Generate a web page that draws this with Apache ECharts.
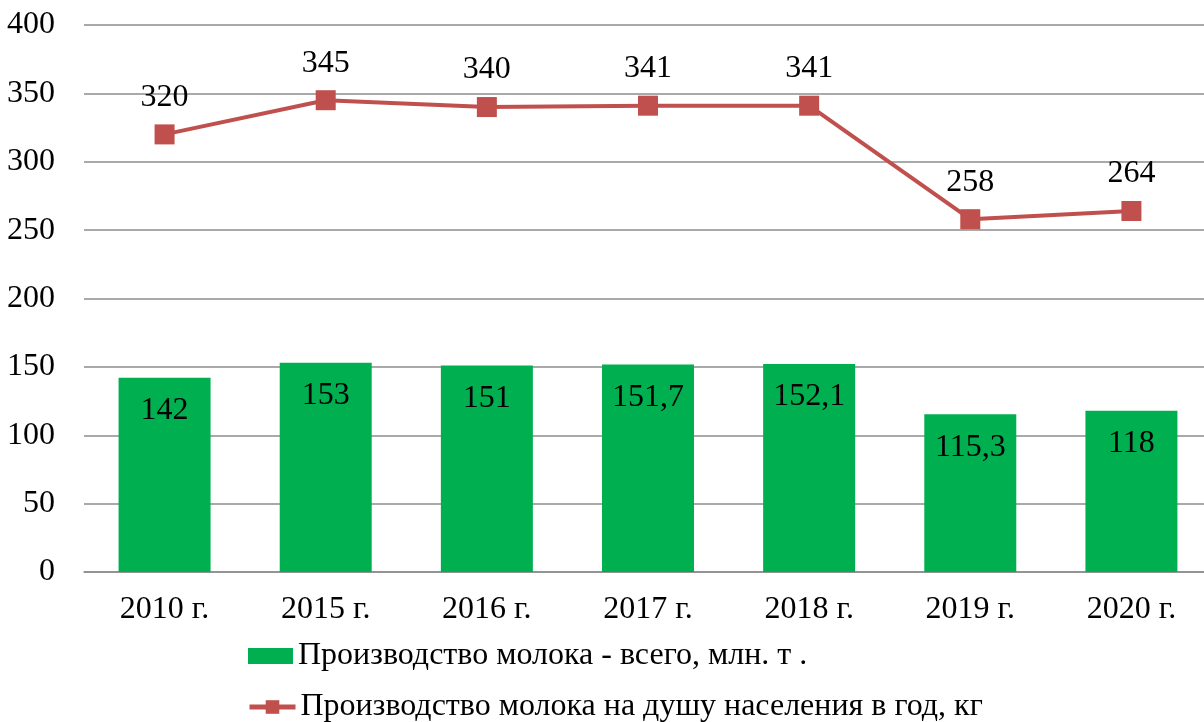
<!DOCTYPE html>
<html><head><meta charset="utf-8">
<script src="https://cdn.jsdelivr.net/npm/echarts@6/dist/echarts.min.js"></script>
<style>html,body{margin:0;padding:0;background:#fff;overflow:hidden}#c{width:1212px;height:722px}</style>
</head><body><div id="c"></div>
<script>
const categories = ['2010 г.', '2015 г.', '2016 г.', '2017 г.', '2018 г.', '2019 г.', '2020 г.'];
const barValues = [142, 153, 151, 151.7, 152.1, 115.3, 118];
const lineValues = [320, 345, 340, 341, 341, 258, 264];
const barName = 'Производство молока - всего, млн. т .';
const lineName = 'Производство молока на душу населения в год, кг';

const font = '"Liberation Serif", "Times New Roman", serif';
const fs = 32;
const chart = echarts.init(document.getElementById('c'));
chart.setOption({
  animation: false,
  backgroundColor: '#fff',
  textStyle: { fontFamily: font },
  grid: { left: 84, top: 25, right: 0, height: 547, containLabel: false },
  legend: [
    { data: [{ name: barName, icon: 'rect' }], orient: 'vertical', left: 248, top: 640, itemWidth: 45, itemHeight: 16, padding: 0,
      textStyle: { fontFamily: font, fontSize: fs, color: '#000' } },
    { data: [{ name: lineName, lineStyle: { width: 5 } }], orient: 'vertical', left: 247, top: 691, itemWidth: 46, itemHeight: 17, padding: 0,
      lineStyle: { width: 5 },
      textStyle: { fontFamily: font, fontSize: fs, color: '#000' } }
  ],
  xAxis: {
    type: 'category', data: categories,
    axisLine: { lineStyle: { color: '#8c8c8c', width: 1.5 } },
    axisTick: { show: false },
    axisLabel: { fontFamily: font, fontSize: fs, color: '#000', margin: 22 }
  },
  yAxis: {
    type: 'value', min: 0, max: 400, interval: 50,
    axisLine: { show: false }, axisTick: { show: false },
    splitLine: { lineStyle: { color: '#8c8c8c', width: 1.5 } },
    axisLabel: { fontFamily: font, fontSize: fs, color: '#000', margin: 29 }
  },
  series: [
    { name: barName, type: 'bar', data: barValues, barWidth: 92,
      itemStyle: { color: '#00B050' },
      label: { show: true, position: 'insideTop', distance: 17, fontFamily: font, fontSize: fs, color: '#000',
        formatter: p => String(p.value).replace('.', ',') } },
    { name: lineName, type: 'line', data: lineValues, symbol: 'rect', symbolSize: 20,
      lineStyle: { color: '#C0504D', width: 4 }, itemStyle: { color: '#C0504D' },
      label: { show: true, position: 'top', distance: 11, fontFamily: font, fontSize: fs, color: '#000' } }
  ]
});
</script></body></html>
